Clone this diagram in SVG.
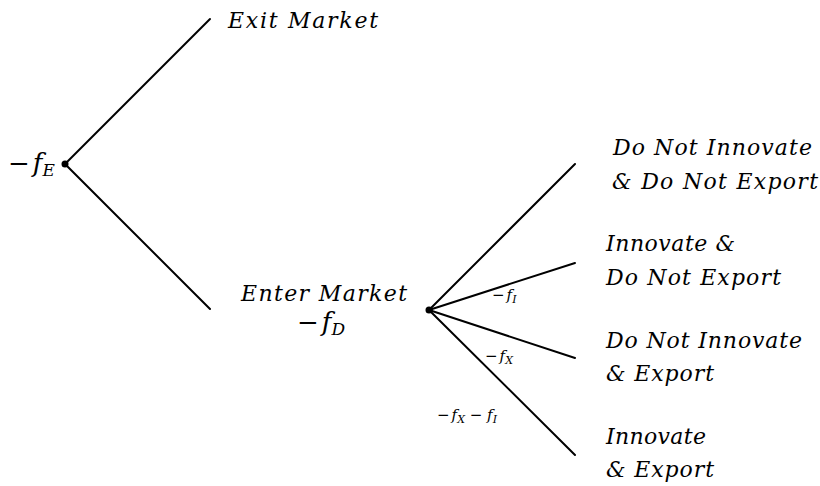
<svg xmlns="http://www.w3.org/2000/svg" width="820" height="486" viewBox="0 0 820 486">
<style>
.e{stroke:#000;stroke-width:2;fill:none;stroke-linecap:round}
text{font-family:"DejaVu Serif",serif;font-style:italic;fill:#000}
.t{font-size:22px}
.m{font-size:26px}
.s{font-size:15px}
.r{font-style:normal}
.sub{font-size:17px}
.ssub{font-size:11px}
</style>
<rect width="820" height="486" fill="#fff"/>
<g id="connectors">
<line class="e" x1="65" y1="164" x2="210" y2="19"/>
<line class="e" x1="65" y1="164" x2="210" y2="309"/>
<line class="e" x1="429" y1="310" x2="575" y2="164"/>
<line class="e" x1="429" y1="310" x2="575" y2="263"/>
<line class="e" x1="429" y1="310" x2="575" y2="358"/>
<line class="e" x1="429" y1="310" x2="575" y2="455"/>
<text class="s" x="492" y="300"><tspan class="r">−</tspan><tspan dx="2">f</tspan><tspan class="ssub" dy="3">I</tspan></text>
<text class="s" x="485" y="361"><tspan class="r">−</tspan><tspan dx="2">f</tspan><tspan class="ssub" dy="3">X</tspan></text>
<text class="s" x="437" y="420"><tspan class="r">−</tspan><tspan dx="2">f</tspan><tspan class="ssub" dy="3">X</tspan><tspan dy="-3" class="r"> − </tspan><tspan>f</tspan><tspan class="ssub" dy="3">I</tspan></text>
</g>
<g id="root">
<circle cx="65" cy="164" r="3.5" fill="#000"/>
<text class="m" x="8" y="172"><tspan class="r">−</tspan><tspan dx="3">f</tspan><tspan class="sub" dy="4">E</tspan></text>
</g>
<g id="exit">
<text class="t" x="228" y="28" textLength="150" lengthAdjust="spacing">Exit Market</text>
</g>
<g id="enter">
<circle cx="429" cy="310" r="3.5" fill="#000"/>
<text class="t" x="241" y="301" textLength="166" lengthAdjust="spacing">Enter Market</text>
<text class="m" x="297" y="331"><tspan class="r">−</tspan><tspan dx="3">f</tspan><tspan class="sub" dy="4">D</tspan></text>
</g>
<g id="leaf1">
<text class="t" x="613" y="155" textLength="199" lengthAdjust="spacing">Do Not Innovate</text>
<text class="t" x="612" y="189" textLength="206" lengthAdjust="spacing">&amp; Do Not Export</text>
</g>
<g id="leaf2">
<text class="t" x="606" y="251" textLength="129" lengthAdjust="spacing">Innovate &amp;</text>
<text class="t" x="606" y="285" textLength="175" lengthAdjust="spacing">Do Not Export</text>
</g>
<g id="leaf3">
<text class="t" x="606" y="348" textLength="196" lengthAdjust="spacing">Do Not Innovate</text>
<text class="t" x="606" y="381" textLength="108" lengthAdjust="spacing">&amp; Export</text>
</g>
<g id="leaf4">
<text class="t" x="606" y="444" textLength="100" lengthAdjust="spacing">Innovate</text>
<text class="t" x="606" y="477" textLength="108" lengthAdjust="spacing">&amp; Export</text>
</g>
</svg>
